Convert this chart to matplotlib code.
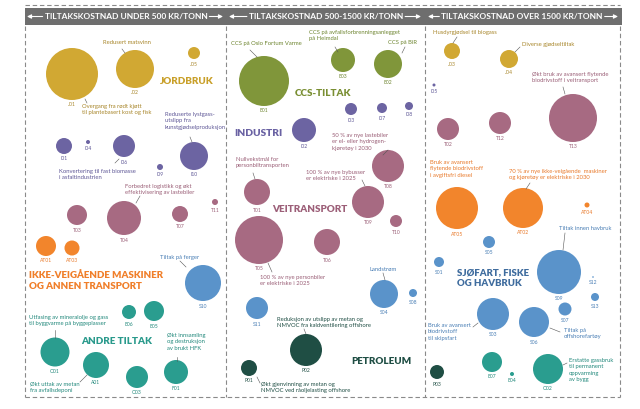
import matplotlib
matplotlib.use("Agg")
import matplotlib.pyplot as plt
from matplotlib.patches import Circle, Rectangle

# ---------------- data ----------------
bubble_ids = ["J01", "J02", "J05", "J03", "J04",
              "I01", "I04", "I06", "I09", "I10", "I02", "I03", "I07", "I08", "I05",
              "T03", "T04", "T07", "T11", "T08", "T01", "T09", "T10", "T05", "T06", "T13", "T12", "T02",
              "AT01", "AT03", "AT05", "AT02", "AT04",
              "S10", "S04", "S08", "S11", "S05", "S09", "S01", "S12", "S13", "S03", "S06", "S07",
              "E01", "E03", "E02",
              "E06", "E05", "O01", "A01", "O03", "F01", "E07", "E04", "O02",
              "P02", "P01", "P03"]
bubble_x = [72, 135, 194, 452, 509,
            64, 88, 124, 160, 194, 304, 351, 382, 409, 434,
            77, 124, 180, 215, 388, 257, 368, 396, 259, 327, 573, 500, 448,
            46, 72, 457, 523, 587,
            203, 384, 413, 257, 489, 559, 439, 593, 595, 493, 534, 565,
            264, 343, 388,
            129, 154, 55, 96, 137, 176, 492, 512, 548,
            306, 249, 437]
bubble_y = [74, 69, 53, 51, 59,
            146, 142, 146, 167, 156, 130, 109, 108, 106, 85,
            215, 218, 214, 202, 166, 192, 202, 221, 240, 242, 118, 123, 129,
            246, 248, 208, 208, 205,
            283, 294, 293, 308, 242, 272, 262, 277, 297, 314, 322, 309,
            81, 60, 64,
            312, 311, 352, 365, 377, 372, 362, 374, 369,
            350, 368, 372]
bubble_r = [26, 19, 6, 8, 9,
            8, 2, 11, 3, 14, 12, 6, 5, 4, 1.5,
            10, 17, 8, 3, 16, 13, 16, 6, 24, 13, 24, 11, 11,
            10, 7.5, 21, 20, 2.5,
            18, 14, 4, 11, 6, 22, 5, 0.8, 4, 16, 15, 6.5,
            25, 12, 14,
            7, 10, 14.5, 13, 11, 12, 10, 2, 15,
            16, 8, 7]
bubble_group = (["J"] * 5 + ["I"] * 10 + ["T"] * 13 + ["AT"] * 5 + ["S"] * 12 +
                ["CCS"] * 3 + ["A"] * 9 + ["P"] * 3)

section_titles = ["TILTAKSKOSTNAD UNDER 500 KR/TONN",
                  "TILTAKSKOSTNAD 500-1500 KR/TONN",
                  "TILTAKSKOSTNAD OVER 1500 KR/TONN"]

group_titles = {
    "J": "JORDBRUK", "I": "INDUSTRI", "CCS": "CCS-TILTAK", "T": "VEITRANSPORT",
    "AT": "IKKE-VEIGÅENDE MASKINER\nOG ANNEN TRANSPORT", "A": "ANDRE TILTAK",
    "P": "PETROLEUM", "S": "SJØFART, FISKE\nOG HAVBRUK",
}

notes_text = [
    "Redusert matsvinn",
    "Overgang fra rødt kjøtt\ntil plantebasert kost og fisk",
    "Reduserte lystgass-\nutslipp fra\nkunstgjødselproduksjon",
    "Konvertering til fast biomasse\ni asfaltindustrien",
    "Forbedret logistikk og økt\neffektivisering av lastebiler",
    "Tiltak på ferger",
    "Utfasing av mineralolje og gass\ntil byggvarme på byggeplasser",
    "Økt uttak av metan\nfra avfallsdeponi",
    "Økt innsamling\nog destruksjon\nav brukt HFK",
    "CCS på Oslo Fortum Varme",
    "CCS på avfallsforbrenningsanlegget\npå Heimdal",
    "CCS på BiR",
    "50 % av nye lastebiler\ner el- eller hydrogen-\nkjøretøy i 2030",
    "Nullvekstmål for\npersonbiltransporten",
    "100 % av nye bybusser\ner elektriske i 2025",
    "100 % av nye personbiler\ner elektriske i 2025",
    "Landstrøm",
    "Reduksjon av utslipp av metan og\nNMVOC fra kaldventilering offshore",
    "Økt gjenvinning av metan og\nNMVOC ved råoljelasting offshore",
    "Husdyrgjødsel til biogass",
    "Diverse gjødseltiltak",
    "Økt bruk av avansert flytende\nbiodrivstoff i veitransport",
    "Bruk av avansert\nflytende biodrivstoff\ni avgiftsfri diesel",
    "70 % av nye ikke-veigående  maskiner\nog kjøretøy er elektriske i 2030",
    "Tiltak innen havbruk",
    "Bruk av avansert\nbiodrivstoff\ntil skipsfart",
    "Tiltak på\noffshorefartøy",
    "Erstatte gassbruk\ntil permanent\noppvarming\nav bygg",
]
notes_group = ["J", "J", "I", "I", "T", "S", "A", "A", "A", "CCS", "CCS", "CCS",
               "T", "T", "T", "T", "S", "P", "P", "J", "J", "T", "AT", "AT", "S", "S", "S", "A"]

# ---------------- style / layout ----------------
colors = {"J": "#D1A833", "I": "#6C64A2", "T": "#A76A82", "AT": "#F2852C",
          "S": "#5A93CA", "CCS": "#80963A", "A": "#2A9D8F", "P": "#1F4E44"}
text_colors = {"J": "#A8862A", "I": "#5E5796", "T": "#9A5E76", "AT": "#E8792A",
               "S": "#4A7FB5", "CCS": "#6E8530", "A": "#23897C", "P": "#1F4E44"}
title_colors = {"J": "#C9A02A", "I": "#6A62A3", "T": "#9C5F78", "AT": "#F07F2A",
                "S": "#3F6C9E", "CCS": "#7A8F33", "A": "#2A9A8C", "P": "#1F4E44"}

# (x, y, ha) for group titles
title_pos = {"J": (187, 82, "center"), "I": (258, 133, "center"), "CCS": (323, 94, "center"),
             "T": (310, 209, "center"), "AT": (29, 281, "left"), "A": (117, 341, "center"),
             "P": (381, 361, "center"), "S": (457, 278, "left")}
title_size = {"J": 7.1, "I": 7.3, "CCS": 7.1, "T": 7.1, "AT": 7.0, "A": 7.1, "P": 7.1, "S": 6.9}

# (x, y_top, ha) for notes
notes_pos = [(127, 40, "center"), (82, 104, "left"), (165, 112, "left"),
             (59, 169, "left"), (125, 184, "left"), (180, 255, "center"),
             (29, 315, "left"), (30, 382, "left"), (167, 333, "left"),
             (266, 41, "center"), (309, 30, "left"), (403, 40, "center"),
             (332, 133, "left"), (236, 157, "left"), (306, 170, "left"),
             (260, 275, "left"), (383, 267, "center"), (277, 317, "left"),
             (261, 382, "left"), (433, 30, "left"), (522, 42, "left"),
             (532, 72, "left"), (430, 160, "left"), (509, 169, "left"),
             (559, 226, "left"), (428, 323, "left"), (564, 328, "left"),
             (569, 358, "left")]

leaders = [((122, 49), (125, 53)), ((85, 99), (87, 103)), ((190, 137), (192, 142)),
           ((115, 163), (119, 159)), ((140, 196), (136, 203)), ((180, 261), (186, 267)),
           ((55, 330), (55, 338)), ((80, 382), (87, 375)), ((177, 357), (177, 361)),
           ((250, 50), (257, 57)), ((335, 47), (338, 52)), ((405, 47), (402, 53)),
           ((383, 155), (388, 150)), ((253, 173), (255, 179)), ((362, 180), (365, 186)),
           ((268, 263), (272, 272)), ((383, 273), (385, 280)), ((304, 329), (306, 334)),
           ((257, 377), (260, 383)), ((457, 37), (453, 43)), ((520, 47), (515, 52)),
           ((563, 87), (565, 94)), ((530, 183), (526, 189)), ((565, 233), (563, 250)),
           ((473, 327), (478, 323)), ((560, 332), (550, 328)), ((567, 363), (563, 365))]

FONT = ["Lato", "DejaVu Sans"]
plt.rcParams["font.family"] = FONT

fig = plt.figure(figsize=(6.4, 4.09), dpi=100)
ax = fig.add_axes([0, 0, 1, 1])
ax.set_xlim(0, 640)
ax.set_ylim(409, 0)
ax.axis("off")

# frame
dash = dict(color="#8a8a8a", lw=0.8, ls=(0, (4, 2.5)))
ax.plot([25, 620], [5, 5], **dash)
ax.plot([25, 620], [397, 397], **dash)
for xv in (25, 226, 425, 620):
    ax.plot([xv, xv], [26, 397], **dash)

# header band
ax.add_patch(Rectangle((25, 8), 597, 17, color="#6e6e6e", lw=0))
sec_centers = [126, 326, 522]
sec_bounds = [(27, 223), (229, 421), (428, 618)]
fig.canvas.draw()
renderer = fig.canvas.get_renderer()
inv = ax.transData.inverted()
for title, cx, (lo, hi) in zip(section_titles, sec_centers, sec_bounds):
    t = ax.text(cx, 16.5, title, ha="center", va="center", color="white",
                fontsize=6.0, fontweight="bold")
    bb = t.get_window_extent(renderer)
    x0 = inv.transform((bb.x0, bb.y0))[0]
    x1 = inv.transform((bb.x1, bb.y0))[0]
    for a, b in ((x0 - 2, lo), (x1 + 2, hi)):
        ax.annotate("", xy=(b, 16.5), xytext=(a, 16.5),
                    arrowprops=dict(arrowstyle="-|>", color="white", lw=0.8,
                                    mutation_scale=6, shrinkA=0, shrinkB=0))

# bubbles
for bid, bx, by, br, g in zip(bubble_ids, bubble_x, bubble_y, bubble_r, bubble_group):
    ax.add_patch(Circle((bx, by), br, facecolor=colors[g], edgecolor="none"))
    ax.text(bx, by + br + 5, bid, ha="center", va="center", fontsize=3.6,
            color=text_colors[g])

# group titles
for g, t in group_titles.items():
    tx, ty, ha = title_pos[g]
    ax.text(tx, ty, t, ha=ha, va="center", fontsize=title_size[g], fontweight="heavy",
            color=title_colors[g], linespacing=1.2)

# notes
for t, g, (nx, ny, ha) in zip(notes_text, notes_group, notes_pos):
    ax.text(nx, ny, t, ha=ha, va="top", fontsize=4.2, color=text_colors[g],
            linespacing=1.35)

for (p1, p2) in leaders:
    ax.plot([p1[0], p2[0]], [p1[1], p2[1]], color="#555555", lw=0.4)

fig.savefig("out.png", dpi=100, facecolor="white")
